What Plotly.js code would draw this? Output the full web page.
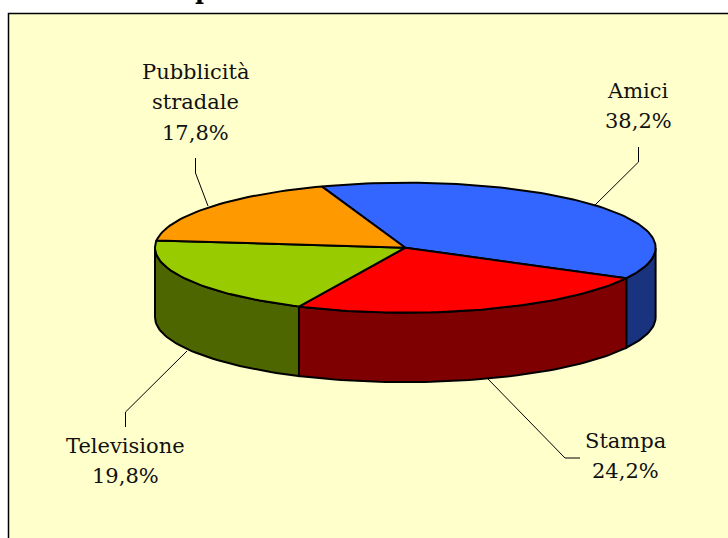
<!DOCTYPE html>
<html><head><meta charset="utf-8">
<script src="https://cdn.plot.ly/plotly-3.0.1.min.js"></script>
<style>html,body{margin:0;padding:0;background:#fff}#c{width:728px;height:538px}</style>
</head><body><div id="c"></div>
<script>
var categories = [["Amici"], ["Stampa"], ["Televisione"], ["Pubblicità", "stradale"]];
var shares = [38.2, 24.2, 19.8, 17.8];
var shareLabels = ["38,2%", "24,2%", "19,8%", "17,8%"];
var titleFragment = "p";
var topColors = ["#3366FF", "#FF0000", "#99CC00", "#FF9900"];
var sideColors = ["#1A337F", "#7F0000", "#4D6600", "#7F4C00"];
var startAngle = -19.5;
var W = 728, H = 538, CX = 405.3, CY = 247.7, RX = 250.3, RY = 65, DEPTH = 69.5;

function pt(a, drop) {
  var r = a * Math.PI / 180;
  return [Math.sin(r), Math.cos(r) - (drop || 0)];
}
function arc(a0, a1, drop) {
  var out = [], n = Math.max(2, Math.ceil(Math.abs(a1 - a0) / 1.5));
  for (var i = 0; i <= n; i++) out.push(pt(a0 + (a1 - a0) * i / n, drop));
  return out;
}
var depthU = DEPTH / RY;
var sides = [], tops = [], a = startAngle;
shares.forEach(function (v, i) {
  var a0 = a, a1 = a + v * 3.6; a = a1;
  var s0 = Math.max(a0, 90), s1 = Math.min(a1, 270);
  if (s1 > s0) {
    var p = arc(s0, s1, 0).concat(arc(s1, s0, depthU)); p.push(p[0]);
    sides.push({type:"scatter", mode:"lines", x:p.map(function(q){return q[0]}), y:p.map(function(q){return q[1]}),
      fill:"toself", fillcolor:sideColors[i], line:{color:"#000", width:2}, hoverinfo:"skip", showlegend:false});
  }
  var t = [[0,0]].concat(arc(a0, a1, 0)); t.push([0,0]);
  tops.push({type:"scatter", mode:"lines", x:t.map(function(q){return q[0]}), y:t.map(function(q){return q[1]}),
    fill:"toself", fillcolor:topColors[i], line:{color:"#000", width:2}, hoverinfo:"skip", showlegend:false});
});

var labelX = [638, 625, 125.5, 195];
var labelTop = [91, 441, 446, 72];
var lineStep = 30.3;
var leaders = [
  [[638.5,147],[638.5,162],[594,206]],
  [[488,379],[565,458],[580,458]],
  [[187,351],[125.5,412],[125.5,427]],
  [[195.5,158],[195.5,173],[208,206]]
];
var font = {family:"'DejaVu Serif','Liberation Serif',serif", size:21, color:"#111"};
var annotations = [];
categories.forEach(function (lines, i) {
  lines.concat([shareLabels[i]]).forEach(function (txt, j) {
    annotations.push({xref:"paper", yref:"paper", x:labelX[i]/W, y:1-(labelTop[i]+j*lineStep)/H, xanchor:"center", yanchor:"middle",
      text:txt, showarrow:false, font:font, align:"center"});
  });
});
annotations.push({xref:"paper", yref:"paper", x:203/W, y:1+10/H, xanchor:"center", yanchor:"middle",
  text:"<b>"+titleFragment+"</b>", showarrow:false, font:{family:font.family, size:24, color:"#000"}});
var shapes = [{type:"rect", xref:"paper", yref:"paper", x0:8.5/W, x1:1.02, y0:-0.02, y1:1-13.5/H,
  fillcolor:"#FFFFCC", line:{color:"#000", width:1.5}, layer:"below"}];
leaders.forEach(function (l) {
  shapes.push({type:"path", xref:"paper", yref:"paper", line:{color:"#000", width:1}, layer:"below",
    path:l.map(function(p,i){return (i?"L":"M")+(p[0]/W)+","+(1-p[1]/H)}).join(" ")});
});
Plotly.newPlot("c", sides.concat(tops), {
  width:W, height:H, margin:{l:0,r:0,t:0,b:0}, paper_bgcolor:"#fff", plot_bgcolor:"rgba(0,0,0,0)", showlegend:false,
  xaxis:{range:[-CX/RX,(W-CX)/RX], visible:false, fixedrange:true},
  yaxis:{range:[(CY-H)/RY, CY/RY], visible:false, fixedrange:true},
  annotations:annotations, shapes:shapes
}, {displayModeBar:false, staticPlot:true});
</script></body></html>
